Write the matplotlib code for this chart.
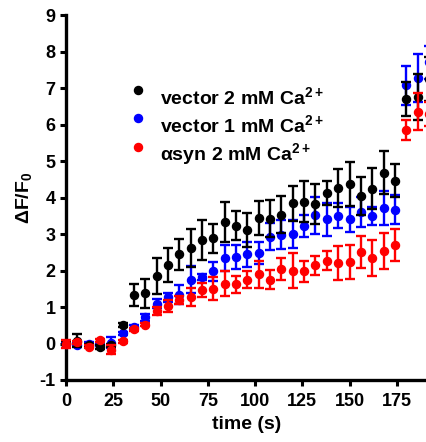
import numpy as np
import matplotlib
matplotlib.use("Agg")
import matplotlib.pyplot as plt

plt.rcParams['font.family'] = ['Liberation Sans', 'DejaVu Sans']
plt.rcParams['font.weight'] = 'bold'
plt.rcParams['axes.unicode_minus'] = False
plt.rcParams['mathtext.fontset'] = 'custom'
plt.rcParams['mathtext.rm'] = 'Liberation Sans:bold'
plt.rcParams['mathtext.bf'] = 'Liberation Sans:bold'
plt.rcParams['mathtext.it'] = 'Liberation Sans:bold:italic'
plt.rcParams['mathtext.sf'] = 'Liberation Sans'

# time points (s)
time_s = [0, 6, 12, 18, 24, 30, 36, 42, 48, 54, 60, 66, 72, 78, 84, 90, 96,
          102, 108, 114, 120, 126, 132, 138, 144, 150, 156, 162, 168, 174,
          180, 186, 192]

# vector, 2 mM Ca2+
vec2_mean = [0.02, 0.08, -0.05, -0.10, -0.05, 0.51, 1.33, 1.37, 1.84, 2.16,
             2.44, 2.62, 2.84, 2.88, 3.32, 3.23, 3.11, 3.44, 3.42, 3.53, 3.84,
             3.89, 3.82, 4.13, 4.25, 4.37, 4.03, 4.24, 4.68, 4.46, 6.70, 6.75,
             7.25]
vec2_sem = [0.05, 0.17, 0.04, 0.05, 0.05, 0.05, 0.31, 0.39, 0.49, 0.47, 0.42,
            0.53, 0.55, 0.40, 0.55, 0.40, 0.47, 0.46, 0.50, 0.50, 0.48, 0.57,
            0.54, 0.33, 0.52, 0.60, 0.52, 0.56, 0.59, 0.45, 0.46, 0.62, 0.60]

# vector, 1 mM Ca2+
vec1_mean = [0.00, -0.03, 0.00, -0.03, 0.02, 0.28, 0.45, 0.72, 1.09, 1.27,
             1.33, 1.75, 1.82, 1.98, 2.34, 2.38, 2.44, 2.47, 2.93, 2.98, 2.99,
             3.22, 3.51, 3.40, 3.50, 3.40, 3.60, 3.49, 3.72, 3.67, 7.07, 7.28,
             7.70]
vec1_sem = [0.05, 0.04, 0.04, 0.04, 0.15, 0.04, 0.05, 0.10, 0.12, 0.12, 0.26,
            0.38, 0.08, 0.26, 0.36, 0.33, 0.35, 0.30, 0.36, 0.39, 0.38, 0.31,
            0.50, 0.45, 0.34, 0.34, 0.41, 0.25, 0.46, 0.39, 0.54, 0.66, 0.45]

# alpha-synuclein, 2 mM Ca2+
asyn_mean = [-0.01, 0.03, -0.09, 0.09, -0.17, 0.06, 0.39, 0.51, 0.88, 1.02,
             1.18, 1.27, 1.47, 1.50, 1.64, 1.62, 1.75, 1.90, 1.75, 2.04, 2.00,
             1.98, 2.15, 2.27, 2.20, 2.23, 2.50, 2.34, 2.53, 2.70, 5.85, 6.35,
             6.30]
asyn_sem = [0.10, 0.05, 0.04, 0.04, 0.12, 0.04, 0.04, 0.04, 0.11, 0.16, 0.11,
            0.25, 0.19, 0.31, 0.35, 0.23, 0.24, 0.37, 0.27, 0.31, 0.47, 0.29,
            0.26, 0.26, 0.46, 0.46, 0.44, 0.50, 0.50, 0.44, 0.27, 0.50, 0.33]

series = [
    (vec1_mean, vec1_sem, '#0000FF', 3),
    (vec2_mean, vec2_sem, '#000000', 4),
    (asyn_mean, asyn_sem, '#FF0000', 5),
]

fig = plt.figure(figsize=(4.27, 4.42), dpi=100)
ax = fig.add_axes([66 / 427, 62 / 442, 1 - 66 / 427, 365 / 442])

for mean, sem, color, z in series:
    cont = ax.errorbar(time_s, mean, yerr=sem, fmt='o', color=color,
                       ms=5.8, elinewidth=1.7, capsize=3.8, capthick=1.7,
                       zorder=z)
    for art in [cont[0], *cont[1], *cont[2]]:
        art.set_clip_on(False)
        art.set_zorder(z)

# legend rows drawn by hand in axes coordinates
legend_rows = [
    ('#000000', r'vector 2 mM Ca$^{\mathbf{2+}}$'),
    ('#0000FF', r'vector 1 mM Ca$^{\mathbf{2+}}$'),
    ('#FF0000', r'$\mathsf{\alpha}$syn 2 mM Ca$^{\mathbf{2+}}$'),
]
marker_y = [0.7945, 0.7178, 0.6384]
text_y = [0.756, 0.679, 0.603]
for (color, label), my, ty in zip(legend_rows, marker_y, text_y):
    ax.plot([0.1994], [my], 'o', color=color, ms=5.8, transform=ax.transAxes,
            clip_on=False)
    ax.text(0.2604, ty, label, transform=ax.transAxes, fontsize=14,
            fontweight='bold', va='baseline', ha='left')

ax.set_xlim(0, 191)
ax.set_ylim(-1, 9)
ax.set_xticks(np.arange(0, 176, 25))
ax.set_yticks(np.arange(-1, 10, 1))

for side in ('top', 'right'):
    ax.spines[side].set_visible(False)
for side in ('left', 'bottom'):
    ax.spines[side].set_linewidth(2.4)
    ax.spines[side].set_capstyle('projecting')

ax.tick_params(axis='both', which='major', direction='out', length=4.5,
               width=2.2, labelsize=13)
ax.tick_params(axis='y', pad=3.0)
ax.tick_params(axis='x', pad=4.5)
for lab in ax.get_xticklabels() + ax.get_yticklabels():
    lab.set_fontweight('bold')

ax.set_xlabel('time (s)', fontsize=14, fontweight='bold', labelpad=5)
ax.set_ylabel(r'$\mathbf{\Delta F/F_0}$', fontsize=14, labelpad=4)

fig.savefig('out.png', dpi=100)
